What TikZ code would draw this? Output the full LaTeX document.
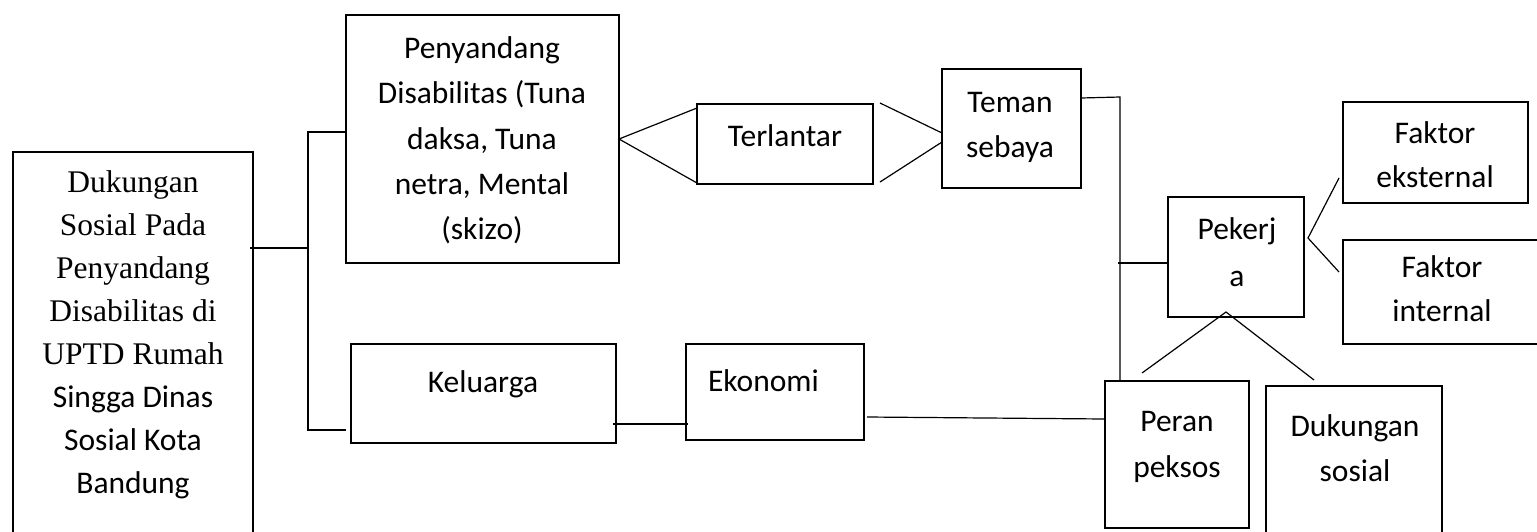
\documentclass[tikz,border=0pt]{standalone}
\usepackage{fontspec}
\setmainfont{Carlito}
\newfontfamily\tnr{Liberation Serif}
\usetikzlibrary{calc}
\tikzset{
  box/.style={draw=black, line width=2.4pt, inner sep=0pt, outer sep=0pt},
  conn/.style={draw=black, line width=1.2pt},
  txt/.style={inner sep=0pt, outer sep=0pt, align=center, font=\fontsize{31.5}{#1}\selectfont},
}
\begin{document}
\begin{tikzpicture}[x=1pt,y=-1pt]
\useasboundingbox (0,0) rectangle (1537,531);
\fill[white] (0,0) rectangle (1537,531);
\clip (0,0) rectangle (1537,531);

% boxes
\node[box, minimum width=240pt, minimum height=408pt] (main) at (133,356) {};
\node[box, minimum width=273pt, minimum height=248pt] (pen) at (482.5,139) {};
\node[box, minimum width=176pt, minimum height=80pt] (terl) at (785,144) {};
\node[box, minimum width=139pt, minimum height=119pt] (tem) at (1011.5,128.5) {};
\node[box, minimum width=136pt, minimum height=120pt] (pek) at (1236,257) {};
\node[box, minimum width=185pt, minimum height=101pt] (fe) at (1435.5,152.5) {};
\node[box, minimum width=198pt, minimum height=104pt] (fi) at (1442,292) {};
\node[box, minimum width=144pt, minimum height=147pt] (per) at (1177,454.5) {};
\node[box, minimum width=176pt, minimum height=174pt] (dks) at (1354,473) {};
\node[box, minimum width=265pt, minimum height=99pt] (kel) at (483.5,393.5) {};
\node[box, minimum width=178pt, minimum height=96pt] (eko) at (775,392) {};

% texts
\node[txt=43pt] (tmain) at (133,334) {\strut\tnr Dukungan\\\tnr Sosial Pada\\\tnr Penyandang\\\tnr Disabilitas di\\\tnr UPTD Rumah\\\rmfamily Singga Dinas\\\rmfamily Sosial Kota\\\rmfamily Bandung\strut};
\node[txt=45.25pt] (tpen) at (482,140) {\strut Penyandang\\Disabilitas (Tuna\\daksa, Tuna\\netra, Mental\\(skizo)\strut};
\node[txt=45pt] (tterl) at (785,137.5) {\strut Terlantar\strut};
\node[txt=45pt] (ttem) at (1010,125.5) {\strut Teman\\sebaya\strut};
\node[txt=47pt] (tpek) at (1237,253.5) {\strut Pekerj\\a\strut};
\node[txt=44pt] (tfe) at (1435,157) {\strut Faktor\\eksternal\strut};
\node[txt=44pt] (tfi) at (1442,291) {\strut Faktor\\internal\strut};
\node[txt=46pt] (tper) at (1177,445) {\strut Peran\\peksos\strut};
\node[txt=45pt] (tdks) at (1355,450) {\strut Dukungan\\sosial\strut};
\node[txt=45pt] (tkel) at (483,383.5) {\strut Keluarga\strut};
\node[txt=45pt, anchor=west] (teko) at (708,382.5) {\strut Ekonomi\strut};

% junctions
\coordinate (ja) at (308,248);
\coordinate (jtop) at (308,132);
\coordinate (jbot) at (308,430);
\coordinate (jr) at (1120,97);
\coordinate (vf) at ($(pek.east)+(4,-19)$);
\coordinate (vb) at ($(pek.south)+(-10,-5)$);

% connectors
\draw[conn] ($(main.east |- ja)+(-3,0)$) -- (ja);
\draw[conn] (jtop -| pen.west) -- (jtop) -- (jbot) -- ($(jbot -| kel.west)+(-5,0)$);
\draw[conn] ($(terl.north west)+(0,4)$) -- (pen.east) -- ($(terl.south west)+(0,-1)$);
\draw[conn] ($(terl.north east)+(7,-1)$) -- ($(tem.west)+(0,4.5)$);
\draw[conn] ($(terl.south east)+(7,-2)$) -- ($(tem.west)+(0,13.5)$);
\draw[conn] ($(tem.north east)+(0,29)$) -- (jr) -- (jr |- per.north);
\draw[conn] ($(jr |- pek.west)+(-2,6)$) -- ($(pek.west)+(0,6)$);
\draw[conn] ($(fe.west)+(-4,25.5)$) -- (vf) -- ($(fi.west)+(-4,-20)$);
\draw[conn] ($(per.north west)+(37,-8)$) -- (vb) -- ($(dks.north)+(-40,-6)$);
\draw[conn] ($(eko.east)+(3,25)$) -- ($(per.west)+(0,-35.5)$);
\draw[conn] ($(kel.east)+(-3,30.5)$) -- ($(eko.west)+(2,32)$);
\end{tikzpicture}
\end{document}
